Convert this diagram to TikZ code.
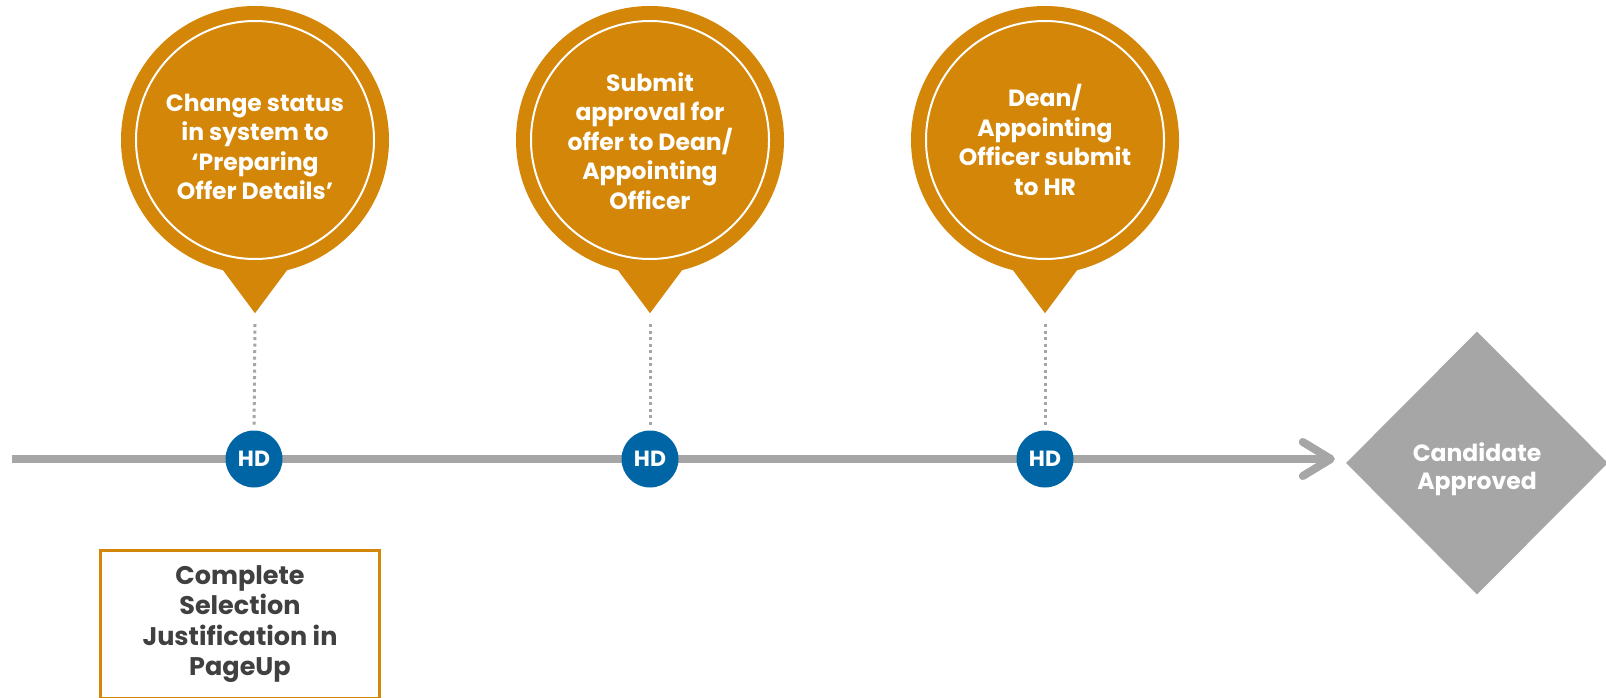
\documentclass[tikz,border=0pt]{standalone}
\usepackage{fontspec}
\setmainfont{Poppins}
\usepackage{tikz}
\usetikzlibrary{arrows.meta, calc, shapes.geometric}
\definecolor{offerOrange}{RGB}{212,134,8}
\definecolor{hdBlue}{RGB}{0,101,164}
\definecolor{lineGray}{RGB}{166,166,166}
\definecolor{textGray}{RGB}{64,64,64}
\tikzset{
  balloon/.style={circle, fill=offerOrange, minimum size=268pt, inner sep=0pt},
  balloontext/.style={text=white, align=center, inner sep=0pt, font=\bfseries\fontsize{23.5}{29.5}\selectfont},
  hd/.style={circle, fill=hdBlue, minimum size=57pt, inner sep=0pt, text=white, font=\bfseries\fontsize{22}{24}\selectfont},
  hdlink/.style={lineGray, line width=3pt, dash pattern=on 3pt off 3.5pt},
  timeline/.style={lineGray, line width=8pt, -{Straight Barb[length=28pt, width=34pt, round]}},
  goalbox/.style={diamond, fill=lineGray, minimum width=262pt, minimum height=263pt, inner sep=0pt},
  goaltext/.style={text=white, align=center, inner sep=0pt, font=\bfseries\fontsize{23.5}{28}\selectfont},
  selectbox/.style={draw=offerOrange, line width=3pt, minimum width=279pt, minimum height=148pt, text=textGray, align=center, font=\bfseries\fontsize{25.5}{30.5}\selectfont}
}

\begin{document}
\begin{tikzpicture}[x=1pt, y=-1pt]
  \useasboundingbox (0,0) rectangle (1606,698);
  \coordinate (start) at (12,459);
  \node[goalbox] (goal) at (1477,463) {};
  \node[goaltext] (goaltxt) at ($(goal)+(0,6)$) {Candidate\\Approved};

  % balloons with their pointers
  \node[balloon] (b1) at (255,140) {};
  \node[balloon] (b2) at (650,140) {};
  \node[balloon] (b3) at (1045,140) {};
  \foreach \b in {1,2,3}{
    \draw[white, line width=2pt] (b\b) circle (119);
    \coordinate (t\b) at ($(b\b.south)+(0,39)$);
    \fill[offerOrange] ($(b\b.south)+(-35,-8)$) -- ($(b\b.south)+(35,-8)$) -- (t\b) -- cycle;
    \coordinate (d\b) at ($(t\b)+(0,11)$);
  }
  \node[balloontext] (s1) at ($(b1)+(0,7)$) {Change status\\in system to\\‘Preparing\\Offer Details’};
  \node[balloontext] (s2) at ($(b2)+(0,1)$) {Submit\\approval for\\offer to Dean/\\Appointing\\Officer};
  \node[balloontext] (s3) at ($(b3)+(0,0)$) {Dean/\\Appointing\\Officer submit\\to HR};

  \draw[timeline, shorten >=11pt] (start) -- (goal.west |- start);

  \node[hd] (h1) at (254,459) {HD};
  \node[hd] (h2) at (650,459) {HD};
  \node[hd] (h3) at (1045,459) {HD};
  \foreach \b in {1,2,3}
    \draw[hdlink, shorten >=4pt] (d\b) -- (h\b.north);

  \node[selectbox] (sel) at (240,624) {Complete\\Selection\\Justification in\\PageUp};
\end{tikzpicture}
\end{document}
